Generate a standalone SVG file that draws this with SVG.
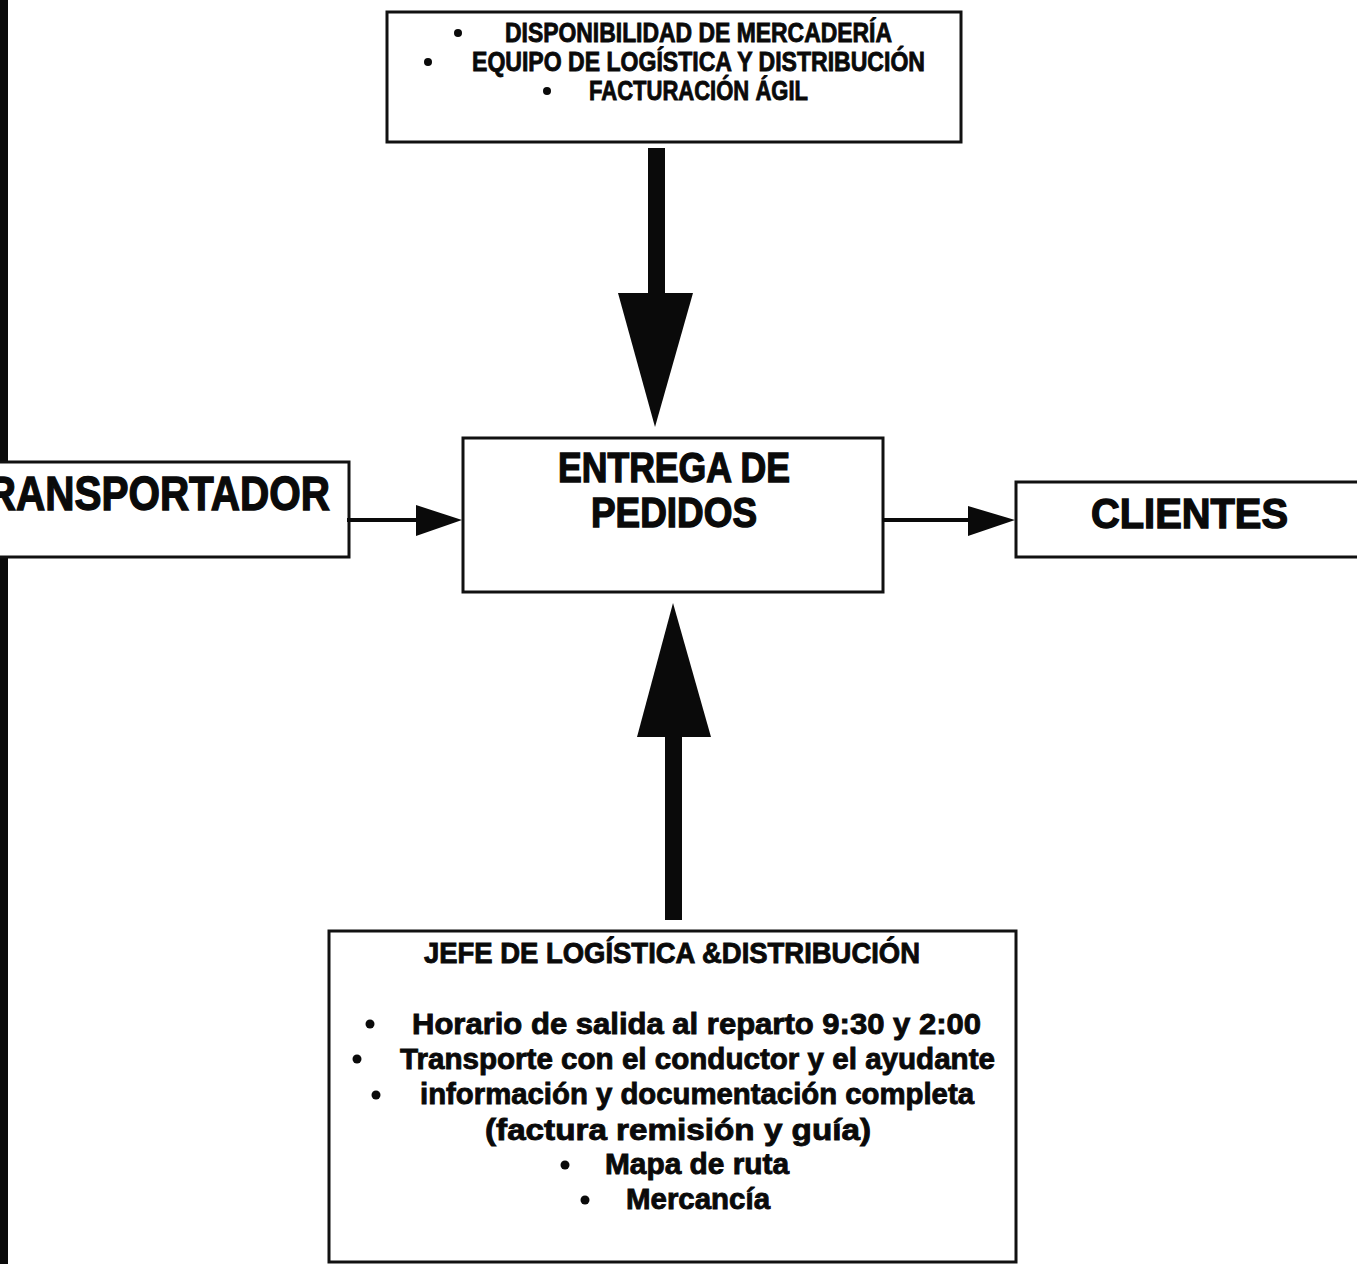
<svg xmlns="http://www.w3.org/2000/svg" width="1357" height="1264" viewBox="0 0 1357 1264">
  <style>
    .box { fill: #ffffff; stroke: #111111; stroke-width: 3; }
    .t { font-family: "Liberation Sans", "DejaVu Sans", Arial, sans-serif; font-weight: bold; fill: #0a0a0a; stroke: #0a0a0a; stroke-width: 0.9; }
    .big { stroke-width: 1.4; }
    .shaft { fill: none; stroke: #0a0a0a; }
    .head { fill: #0a0a0a; }
    .dot { fill: #0a0a0a; }
  </style>

  <rect width="1357" height="1264" fill="#ffffff"/>
  <!-- dark strip along the left edge -->
  <rect x="0" y="0" width="8" height="1264" fill="#0a0a0a"/>

  <!-- requirements box -->
  <g id="requisitos">
    <rect class="box" x="387" y="12" width="574" height="130"/>
    <circle class="dot" cx="458" cy="33" r="4"/>
    <text class="t" x="505" y="42" font-size="28" textLength="387" lengthAdjust="spacingAndGlyphs">DISPONIBILIDAD DE MERCADERÍA</text>
    <circle class="dot" cx="428" cy="62" r="4"/>
    <text class="t" x="472" y="71" font-size="28" textLength="453" lengthAdjust="spacingAndGlyphs">EQUIPO DE LOGÍSTICA Y DISTRIBUCIÓN</text>
    <circle class="dot" cx="547" cy="91" r="4"/>
    <text class="t" x="589" y="100" font-size="28" textLength="219" lengthAdjust="spacingAndGlyphs">FACTURACIÓN ÁGIL</text>
  </g>

  <!-- central process -->
  <g id="entrega">
    <rect class="box" x="463" y="438" width="420" height="154"/>
    <text class="t big" x="558" y="482" font-size="42" textLength="232" lengthAdjust="spacingAndGlyphs">ENTREGA DE</text>
    <text class="t big" x="591" y="527" font-size="42" textLength="166" lengthAdjust="spacingAndGlyphs">PEDIDOS</text>
  </g>

  <!-- carrier -->
  <g id="transportador">
    <rect class="box" x="-10" y="462" width="359" height="95"/>
    <text class="t big" x="330" y="510" font-size="49" text-anchor="end" textLength="368" lengthAdjust="spacingAndGlyphs">TRANSPORTADOR</text>
  </g>

  <!-- customers -->
  <g id="clientes">
    <rect class="box" x="1016" y="482" width="360" height="75"/>
    <text class="t big" x="1091" y="528" font-size="43" textLength="197" lengthAdjust="spacingAndGlyphs">CLIENTES</text>
  </g>

  <!-- logistics manager -->
  <g id="jefe">
    <rect class="box" x="329" y="931" width="687" height="331"/>
    <text class="t" x="424" y="963" font-size="30" textLength="496" lengthAdjust="spacingAndGlyphs">JEFE DE LOGÍSTICA &amp;DISTRIBUCIÓN</text>
    <circle class="dot" cx="370" cy="1024" r="4.5"/>
    <text class="t" x="412" y="1034" font-size="30" textLength="569" lengthAdjust="spacingAndGlyphs">Horario de salida al reparto 9:30 y 2:00</text>
    <circle class="dot" cx="357" cy="1059" r="4.5"/>
    <text class="t" x="400" y="1069" font-size="30" textLength="595" lengthAdjust="spacingAndGlyphs">Transporte con el conductor y el ayudante</text>
    <circle class="dot" cx="376" cy="1095" r="4.5"/>
    <text class="t" x="420" y="1104" font-size="30" textLength="554" lengthAdjust="spacingAndGlyphs">información y documentación completa</text>
    <text class="t" x="485" y="1140" font-size="30" textLength="386" lengthAdjust="spacingAndGlyphs">(factura remisión y guía)</text>
    <circle class="dot" cx="565" cy="1165" r="4.5"/>
    <text class="t" x="605" y="1174" font-size="30" textLength="184" lengthAdjust="spacingAndGlyphs">Mapa de ruta</text>
    <circle class="dot" cx="585" cy="1200" r="4.5"/>
    <text class="t" x="626" y="1209" font-size="30" textLength="144" lengthAdjust="spacingAndGlyphs">Mercancía</text>
  </g>

  <!-- connectors -->
  <g id="conectores">
    <!-- requisitos -> entrega -->
    <line class="shaft" x1="656.5" y1="148" x2="656.5" y2="296" stroke-width="17"/>
    <polygon class="head" points="618,293 693,293 655,427"/>
    <!-- jefe -> entrega -->
    <line class="shaft" x1="673.5" y1="920" x2="673.5" y2="734" stroke-width="17"/>
    <polygon class="head" points="637,737 711,737 673,603"/>
    <!-- transportador -> entrega -->
    <line class="shaft" x1="347" y1="520" x2="420" y2="520" stroke-width="4"/>
    <polygon class="head" points="416,505 462,520 416,536"/>
    <!-- entrega -> clientes -->
    <line class="shaft" x1="882" y1="520" x2="970" y2="520" stroke-width="4"/>
    <polygon class="head" points="968,506 1015,520 968,536"/>
  </g>
</svg>
